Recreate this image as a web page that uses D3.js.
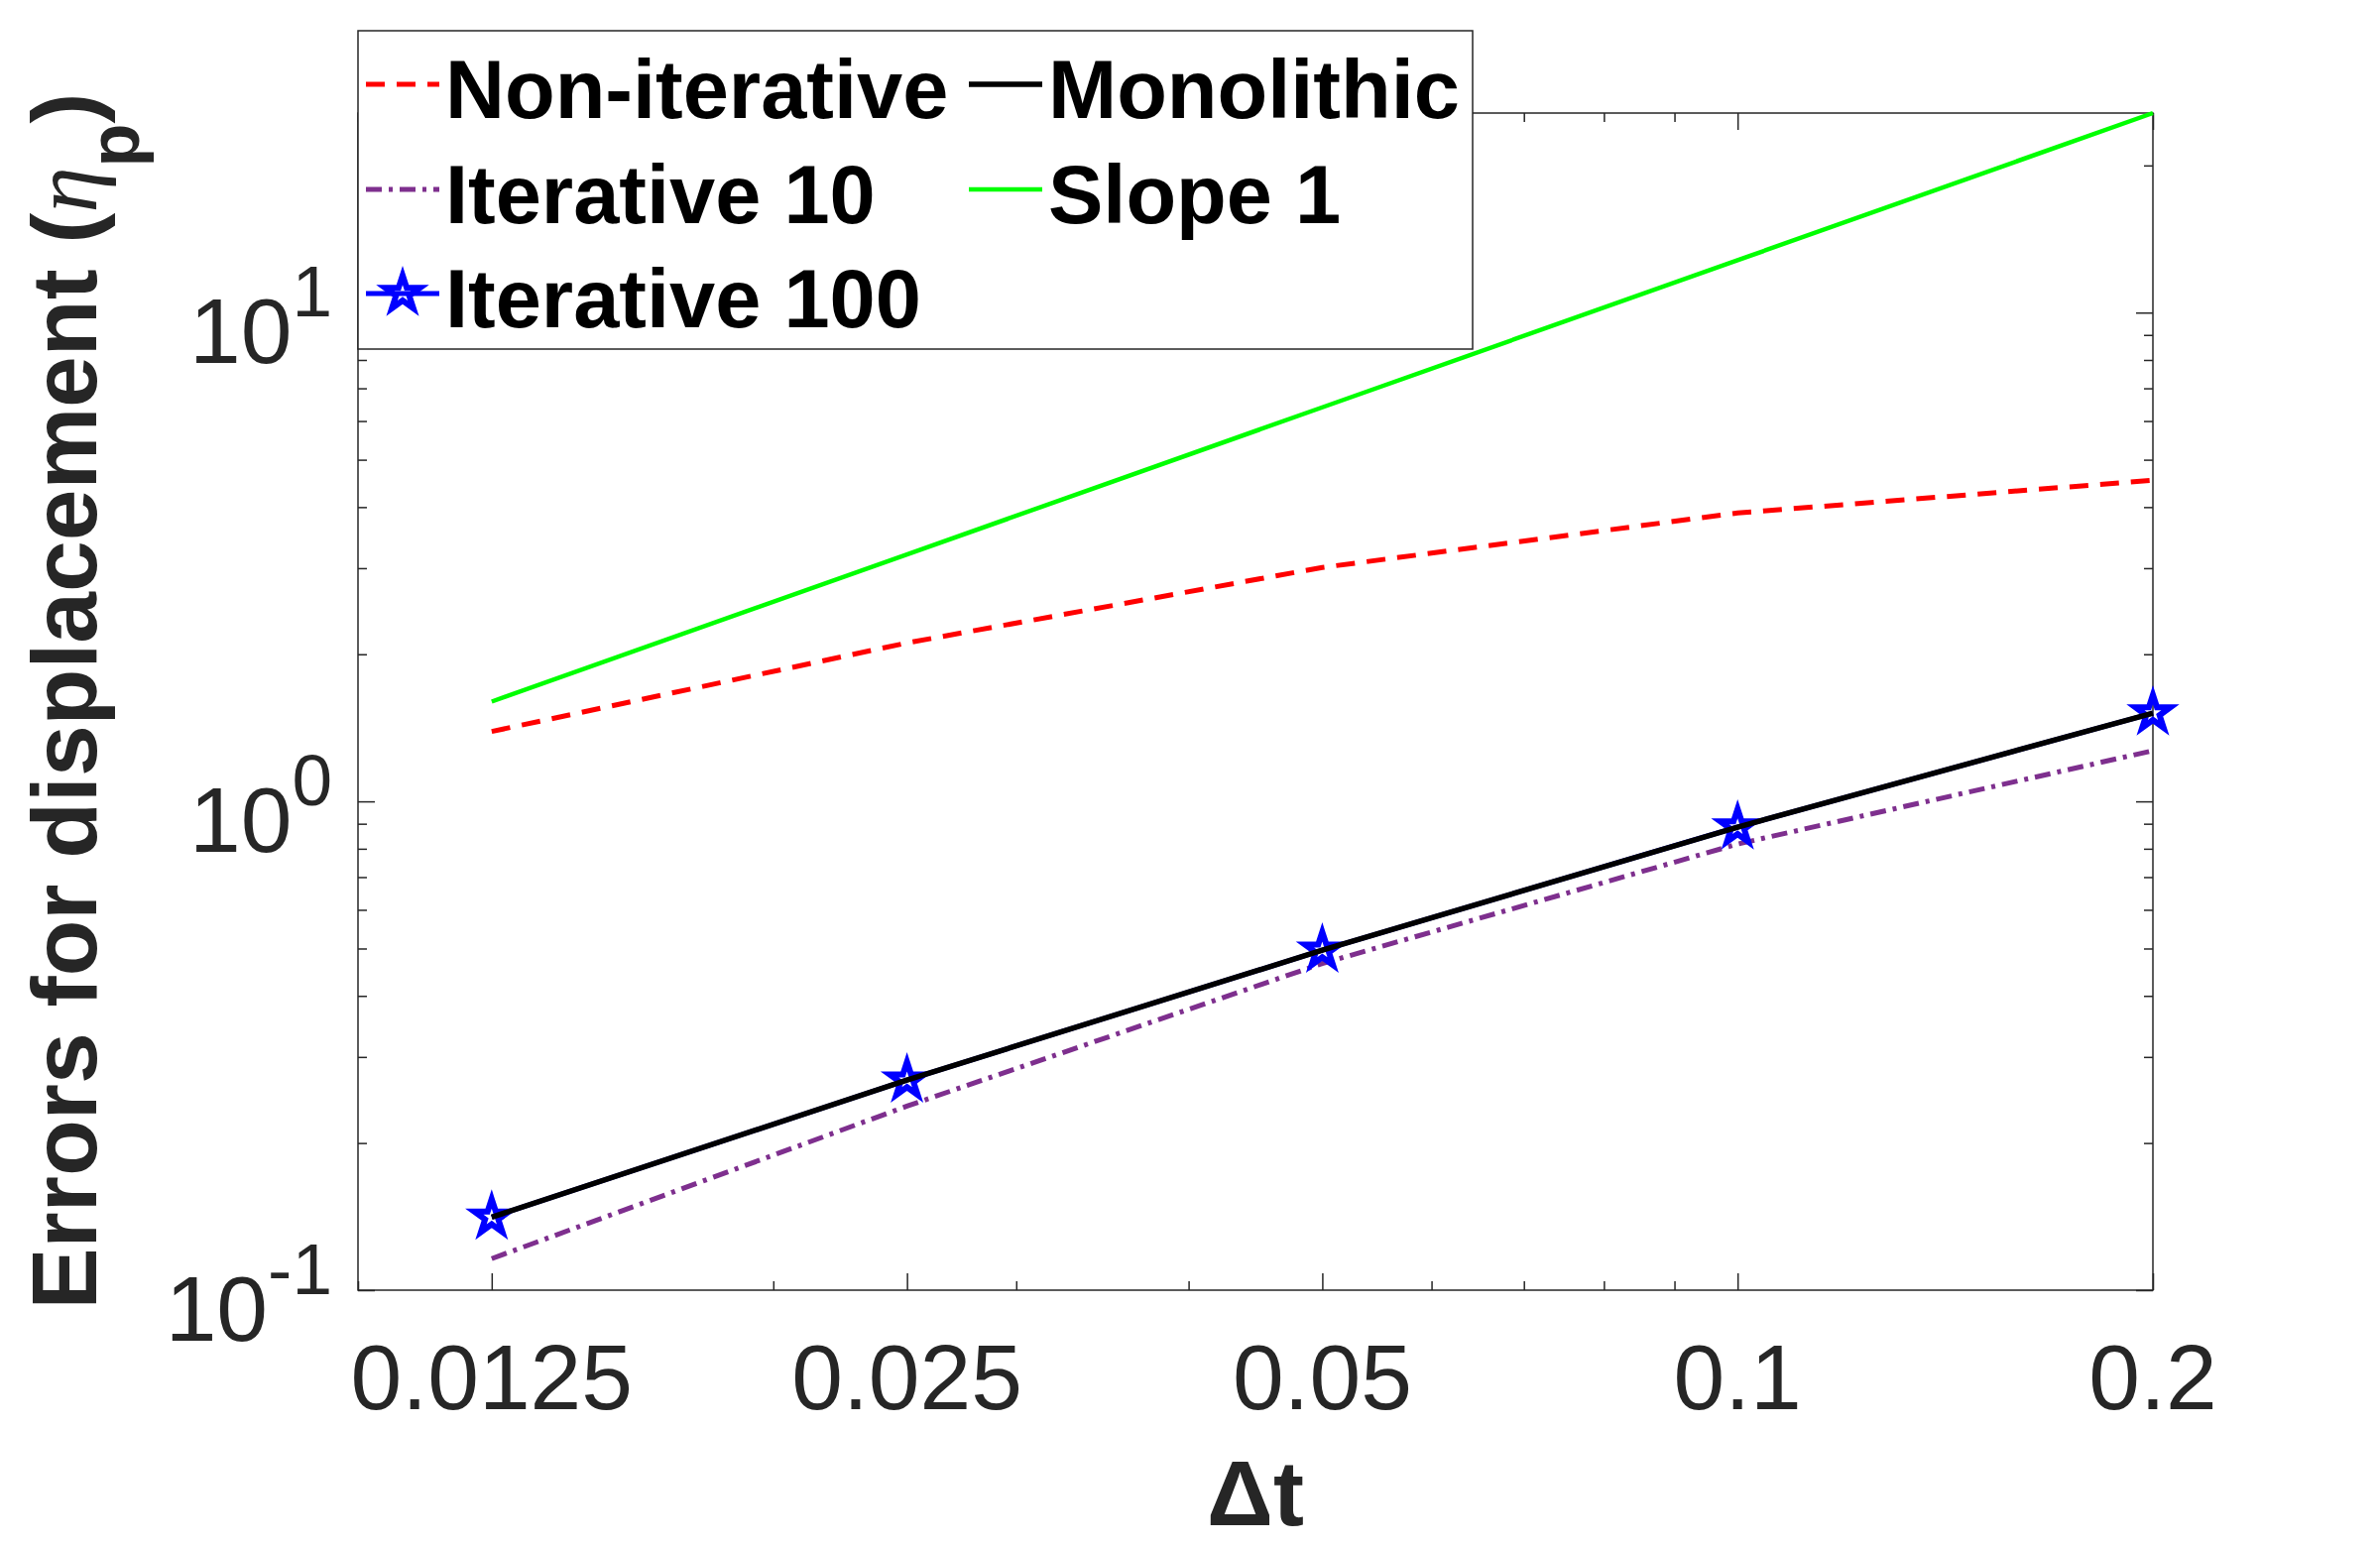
<!DOCTYPE html>
<html>
<head>
<meta charset="utf-8">
<script src="https://cdn.jsdelivr.net/npm/d3@7"></script>
<style>
  body { margin: 0; background: #fff; }
  text { font-family: "Liberation Sans", Arial, Helvetica, sans-serif; }
</style>
</head>
<body>
<div id="chart"></div>
<script>
// values (log-log)
var dt = [0.0125, 0.025, 0.05, 0.1, 0.2];
var nonIterative = [1.39, 2.11, 3.01, 3.89, 4.54];
var iterative10 = [0.116, 0.238, 0.466, 0.818, 1.27];
var iterative100 = [0.141, 0.269, 0.496, 0.886, 1.516];
var monolithic = [0.141, 0.269, 0.496, 0.886, 1.516];
var slope1 = [1.6, 3.2, 6.4, 12.8, 25.6];

var seriesNames = ["Non-iterative", "Iterative 10", "Iterative 100", "Monolithic", "Slope 1"];
var xTickLabels = ["0.0125", "0.025", "0.05", "0.1", "0.2"];
var yTickValues = [0.1, 1, 10];
var yTickExponents = ["-1", "0", "1"];
var xDomain = [0.01, 0.2];
var yDomain = [0.1, 25.6];

var W = 2400, H = 1560;
var plotLeft = 361, plotRight = 2171, plotTop = 114, plotBottom = 1301;
var axisColor = "#262626";

var x = d3.scaleLog().domain(xDomain).range([plotLeft, plotRight]);
var y = d3.scaleLog().domain(yDomain).range([plotBottom, plotTop]);

function near(a, b) { return Math.abs(a - b) < 1e-9 * Math.max(1, b); }
function notIn(list) { return function(v) { return !list.some(function(m) { return near(v, m); }); }; }

var xMinor = x.ticks().filter(notIn(dt));
var yMinor = y.ticks().filter(notIn(yTickValues));

var svg = d3.select("#chart").append("svg")
  .attr("width", W).attr("height", H)
  .style("background", "#fff");

// inward ticks on all four sides, majors longer than minors
function tidy(sel) {
  sel.select(".domain").remove();
  sel.selectAll(".tick line").attr("stroke", axisColor).attr("stroke-width", 1.5);
  sel.selectAll(".tick text").remove();
}
var axes = svg.append("g");
[[dt, 17], [xMinor, 9]].forEach(function(t) {
  axes.append("g").attr("transform", "translate(0," + plotBottom + ")")
    .call(d3.axisBottom(x).tickValues(t[0]).tickSize(-t[1]).tickSizeOuter(0)).call(tidy);
  axes.append("g").attr("transform", "translate(0," + plotTop + ")")
    .call(d3.axisTop(x).tickValues(t[0]).tickSize(-t[1]).tickSizeOuter(0)).call(tidy);
});
[[yTickValues, 17], [yMinor, 9]].forEach(function(t) {
  axes.append("g").attr("transform", "translate(" + plotLeft + ",0)")
    .call(d3.axisLeft(y).tickValues(t[0]).tickSize(-t[1]).tickSizeOuter(0)).call(tidy);
  axes.append("g").attr("transform", "translate(" + plotRight + ",0)")
    .call(d3.axisRight(y).tickValues(t[0]).tickSize(-t[1]).tickSizeOuter(0)).call(tidy);
});
axes.append("rect")
  .attr("x", plotLeft).attr("y", plotTop)
  .attr("width", plotRight - plotLeft).attr("height", plotBottom - plotTop)
  .attr("fill", "none").attr("stroke", axisColor).attr("stroke-width", 1.5);

// tick labels
svg.selectAll("text.xlab")
  .data(dt)
  .enter().append("text")
    .attr("class", "xlab")
    .attr("x", function(d) { return x(d); })
    .attr("y", plotBottom + 120)
    .attr("text-anchor", "middle")
    .attr("fill", axisColor)
    .style("font-size", "93px")
    .text(function(d, i) { return xTickLabels[i]; });

var ylab = svg.selectAll("text.ylab")
  .data(yTickValues)
  .enter().append("text")
    .attr("class", "ylab")
    .attr("x", plotLeft - 26)
    .attr("y", function(d) { return y(d) + 51; })
    .attr("text-anchor", "end")
    .attr("fill", axisColor)
    .style("font-size", "93px");
ylab.append("tspan").text("10");
ylab.append("tspan")
  .attr("dy", -47)
  .style("font-size", "73px")
  .text(function(d, i) { return yTickExponents[i]; });

// axis titles
svg.append("text")
  .attr("x", (plotLeft + plotRight) / 2)
  .attr("y", 1538)
  .attr("text-anchor", "middle")
  .attr("fill", axisColor)
  .style("font-size", "93px")
  .style("font-weight", "bold")
  .text("\u0394t");

var yTitle = svg.append("text")
  .attr("transform", "translate(97,707) rotate(-90)")
  .attr("text-anchor", "middle")
  .attr("fill", axisColor)
  .style("font-size", "93px")
  .style("font-weight", "bold");
yTitle.append("tspan").text("Errors for displacement (");
yTitle.append("tspan")
  .style("font-family", "'Liberation Serif', 'DejaVu Serif', serif")
  .style("font-style", "italic")
  .style("font-weight", "normal")
  .text("\u03b7");
yTitle.append("tspan").attr("dy", 43).style("font-size", "72px").text("p");
yTitle.append("tspan").attr("dy", -43).text(")");

// series, drawn in the original plotting order
var series = [
  {name: seriesNames[0], values: nonIterative, color: "#ff0000", dash: "19,12", width: 5},
  {name: seriesNames[1], values: iterative10, color: "#7e2f8e", dash: "16,7,4,7", width: 5},
  {name: seriesNames[2], values: iterative100, color: "#0000ff", dash: null, width: 5, star: true},
  {name: seriesNames[3], values: monolithic, color: "#000000", dash: null, width: 5.5},
  {name: seriesNames[4], values: slope1, color: "#00ff00", dash: null, width: 4.5}
];

var line = d3.line()
  .x(function(d) { return x(d[0]); })
  .y(function(d) { return y(d[1]); });

var star = d3.symbol().type(d3.symbolStar).size(380);

var plot = svg.append("g");
series.forEach(function(s) {
  var pts = dt.map(function(t, i) { return [t, s.values[i]]; });
  plot.append("path")
    .datum(pts)
    .attr("d", line)
    .attr("fill", "none")
    .attr("stroke", s.color)
    .attr("stroke-width", s.width)
    .attr("stroke-dasharray", s.dash);
  if (s.star) {
    plot.selectAll("path.star")
      .data(pts)
      .enter().append("path")
        .attr("class", "star")
        .attr("d", star)
        .attr("transform", function(d) { return "translate(" + x(d[0]) + "," + y(d[1]) + ")"; })
        .attr("fill", "none")
        .attr("stroke", s.color)
        .attr("stroke-width", 6);
  }
});

// legend, two columns filled column-wise
var legend = svg.append("g");
legend.append("rect")
  .attr("x", 361).attr("y", 31)
  .attr("width", 1124).attr("height", 321)
  .attr("fill", "#fff")
  .attr("stroke", axisColor)
  .attr("stroke-width", 1.5);

var colX = [369, 977];
var rowY = [85, 191, 296];

series.forEach(function(s, i) {
  var col = i < 3 ? 0 : 1;
  var row = i < 3 ? i : i - 3;
  var lx = colX[col], ly = rowY[row];
  legend.append("line")
    .attr("x1", lx).attr("x2", lx + 74)
    .attr("y1", ly).attr("y2", ly)
    .attr("stroke", s.color)
    .attr("stroke-width", s.width)
    .attr("stroke-dasharray", s.dash);
  if (s.star) {
    legend.append("path")
      .attr("d", star)
      .attr("transform", "translate(" + (lx + 37) + "," + ly + ")")
      .attr("fill", "none")
      .attr("stroke", s.color)
      .attr("stroke-width", 6);
  }
  legend.append("text")
    .attr("x", lx + 80)
    .attr("y", ly + 34)
    .attr("fill", "#000")
    .style("font-size", "83px")
    .style("font-weight", "bold")
    .text(s.name);
});
</script>
</body>
</html>
